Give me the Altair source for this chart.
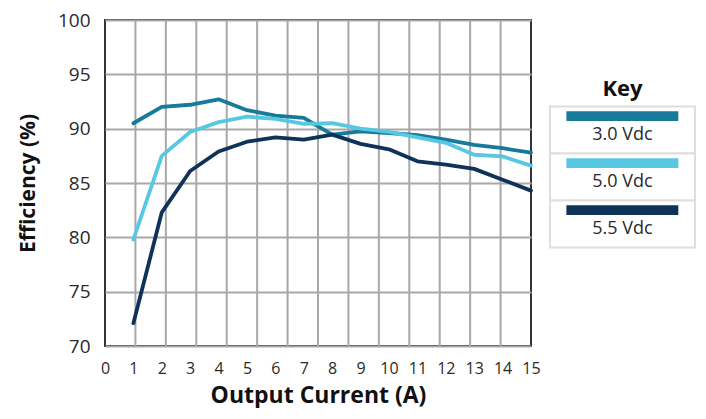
import altair as alt
import pandas as pd

# ---- data ----
current = list(range(1, 16))
eff_30 = [90.5, 92.0, 92.2, 92.7, 91.7, 91.2, 91.0, 89.45, 89.75, 89.6, 89.4, 89.0, 88.5, 88.2, 87.8]
eff_50 = [79.8, 87.5, 89.7, 90.6, 91.1, 90.9, 90.45, 90.5, 90.0, 89.7, 89.2, 88.7, 87.6, 87.45, 86.6]
eff_55 = [72.1, 82.3, 86.1, 87.9, 88.8, 89.2, 89.0, 89.45, 88.6, 88.1, 87.0, 86.7, 86.3, 85.3, 84.3]
series = ["3.0 Vdc", "5.0 Vdc", "5.5 Vdc"]
colors = ["#177a9a", "#58c8e2", "#0f3358"]
x_ticks = list(range(0, 16))
y_ticks = list(range(70, 101, 5))
grid_cols = list(range(1, 14))  # the chart's 14 vertical grid columns

rows = []
for name, vals in zip(series, [eff_30, eff_50, eff_55]):
    for c, v in zip(current, vals):
        rows.append({"series": name, "current": c, "eff": v})
df = pd.DataFrame(rows)

color_scale = alt.Scale(domain=series, range=colors)
FONT = "Open Sans"
GRID = "#a8a8a8"
PLOT_W, PLOT_H = 426, 326

grid = alt.Chart(pd.DataFrame({"col": grid_cols})).mark_rule(
    color=GRID, strokeWidth=2
).encode(
    x=alt.X("col:Q", scale=alt.Scale(domain=[0, 14], nice=False), axis=None)
)

lines = alt.Chart(df).mark_line(
    strokeWidth=3.8, strokeCap="round", strokeJoin="round"
).encode(
    x=alt.X(
        "current:Q",
        scale=alt.Scale(domain=[0, 15], nice=False),
        axis=alt.Axis(
            values=x_ticks, grid=False, ticks=False, domain=False,
            labelPadding=14, labelFontSize=16, labelColor="#2a2a2a",
            labelFlush=False, labelFont=FONT,
            title="Output Current (A)", titleFontSize=23, titleFontWeight="bold",
            titleColor="#111", titlePadding=8, titleFont=FONT,
        ),
    ),
    y=alt.Y(
        "eff:Q",
        scale=alt.Scale(domain=[70, 100], nice=False, zero=False),
        axis=alt.Axis(
            values=y_ticks, grid=True, gridColor=GRID, gridWidth=2,
            ticks=False, domain=False,
            labelPadding=15, labelFontSize=19, labelColor="#2a2a2a",
            labelFont=FONT,
            title="Efficiency (%)", titleFontSize=21, titleFontWeight="bold",
            titleColor="#111", titlePadding=19, titleFont=FONT,
        ),
    ),
    color=alt.Color("series:N", scale=color_scale, legend=None),
    order="current:Q",
)

main = alt.layer(grid, lines).resolve_scale(x="independent").properties(
    width=PLOT_W, height=PLOT_H
)

# ---- custom "Key" legend (one slot unit = one key cell) ----
leg_df = pd.DataFrame({"series": series, "slot": [0, 1, 2]})
cell_px = 47.0
top_off = 1.84
xs = alt.Scale(domain=[0, 1], nice=False)
ys = alt.Scale(domain=[-top_off, PLOT_H / cell_px - top_off], reverse=True,
               nice=False, zero=False)

cells = alt.Chart(leg_df).mark_rect(
    fill="white", stroke="#dedede", strokeWidth=2
).encode(
    x=alt.X(datum=0, scale=xs, axis=None),
    x2=alt.X2(datum=1),
    y=alt.Y("slot:Q", scale=ys, axis=None),
    y2="slot_end:Q",
).transform_calculate(slot_end="datum.slot + 1")

bars = alt.Chart(leg_df).mark_rect().encode(
    x=alt.X(datum=0.113, scale=xs, axis=None),
    x2=alt.X2(datum=0.885),
    y=alt.Y("b0:Q", scale=ys, axis=None),
    y2="b1:Q",
    color=alt.Color("series:N", scale=color_scale, legend=None),
).transform_calculate(b0="datum.slot + 0.1", b1="datum.slot + 0.31")

labels = alt.Chart(leg_df).mark_text(
    fontSize=18, color="#2a2a2a", font=FONT, baseline="middle"
).encode(
    x=alt.X(datum=0.5, scale=xs, axis=None),
    y=alt.Y("ly:Q", scale=ys, axis=None),
    text="series:N",
).transform_calculate(ly="datum.slot + 0.6")

key = alt.Chart(pd.DataFrame({"t": ["Key"]})).mark_text(
    fontSize=22, fontWeight="bold", color="#111", font=FONT, baseline="middle"
).encode(
    x=alt.X(datum=0.5, scale=xs, axis=None),
    y=alt.Y(datum=-0.38, scale=ys, axis=None),
    text="t:N",
)

legend = alt.layer(cells, bars, labels, key).properties(
    width=145, height=PLOT_H, view=alt.ViewBackground(stroke="transparent")
)

chart = alt.hconcat(main, legend, spacing=6).resolve_scale(
    x="independent", y="independent"
).configure(
    font=FONT, background="white",
    padding={"left": 8, "top": 2, "right": 0, "bottom": 0},
).configure_view(
    stroke="#333", strokeWidth=2
)

chart.save("out.html", embed_options={"renderer": "svg", "actions": False})
